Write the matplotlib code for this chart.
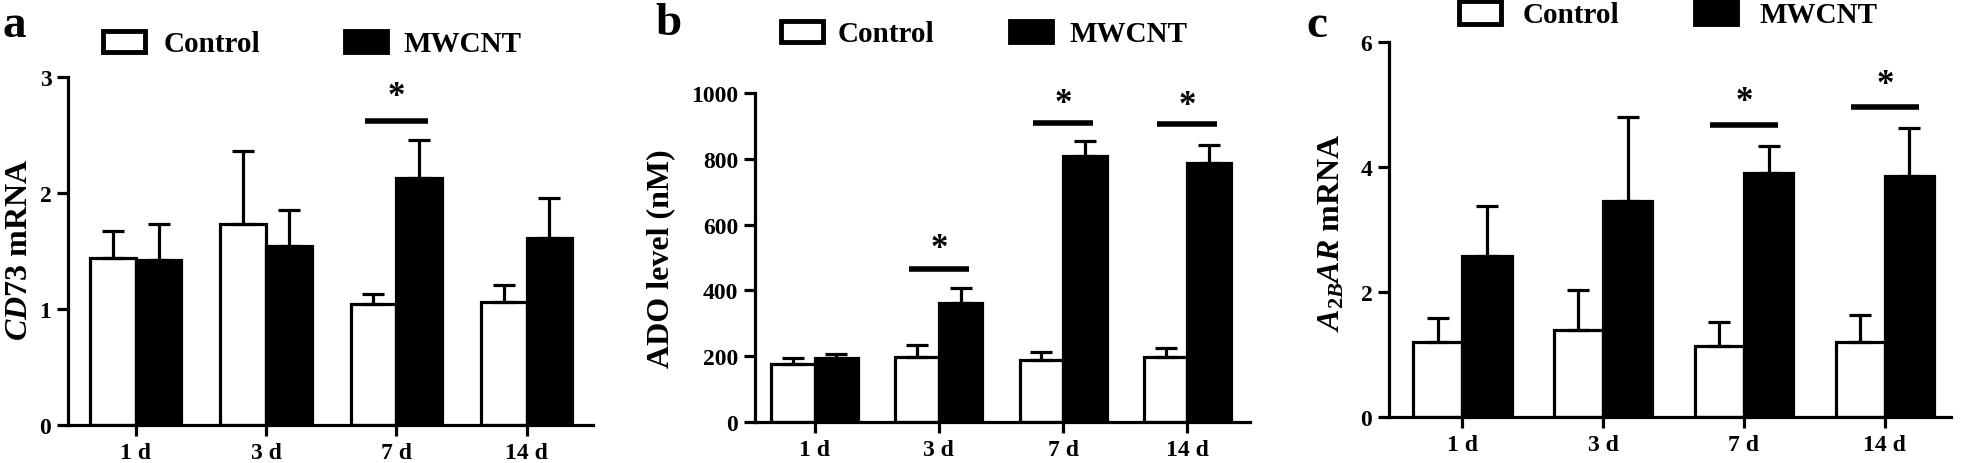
import matplotlib
matplotlib.use("Agg")
import matplotlib.pyplot as plt
import matplotlib.transforms as mtrans
from matplotlib.patches import Rectangle
import numpy as np

# ---------------- data ----------------
days = ["1 d", "3 d", "7 d", "14 d"]
series = ["Control", "MWCNT"]

a_ctrl = [1.44, 1.73, 1.04, 1.06]
a_ctrl_err = [0.23, 0.63, 0.09, 0.15]
a_mw = [1.42, 1.54, 2.13, 1.61]
a_mw_err = [0.31, 0.31, 0.33, 0.35]
a_sig_groups = [2]
a_sig_line = [2.62]
a_sig_star = [2.90]

b_ctrl = [177, 198, 188, 198]
b_ctrl_err = [19, 36, 25, 28]
b_mw = [194, 363, 809, 787]
b_mw_err = [12, 45, 45, 56]
b_sig_groups = [1, 2, 3]
b_sig_line = [464, 909, 905]
b_sig_star = [551, 992, 987]

c_ctrl = [1.20, 1.40, 1.13, 1.20]
c_ctrl_err = [0.39, 0.64, 0.39, 0.43]
c_mw = [2.57, 3.46, 3.91, 3.85]
c_mw_err = [0.81, 1.34, 0.43, 0.77]
c_sig_groups = [2, 3]
c_sig_line = [4.68, 4.96]
c_sig_star = [5.17, 5.44]

a_yticks = [0, 1, 2, 3]
b_yticks = [0, 200, 400, 600, 800, 1000]
c_yticks = [0, 2, 4, 6]

# ---------------- style ----------------
plt.rcParams["font.family"] = ["Liberation Serif", "DejaVu Serif"]
plt.rcParams["font.weight"] = "bold"
plt.rcParams["mathtext.fontset"] = "custom"
plt.rcParams["mathtext.rm"] = "Liberation Serif:bold"
plt.rcParams["mathtext.it"] = "Liberation Serif:italic:bold"
plt.rcParams["mathtext.bf"] = "Liberation Serif:bold"

W, H = 1961, 464
DPI = 100
fig = plt.figure(figsize=(W / DPI, H / DPI), dpi=DPI)

LW = 2.3       # axis / bar edge width (pt)
TICK_FS = 17
LABEL_FS = 23
LEG_FS = 21
STAR_FS = 25
BW = 0.35


def px_axes(left, right, top, bottom):
    return fig.add_axes([left / W, 1 - bottom / H, (right - left) / W, (bottom - top) / H])


def panel(ax, ctrl, ctrl_err, mw, mw_err, yticks, xlim, sig_g, sig_line, sig_star):
    x = np.arange(len(days))
    ax.bar(x - BW / 2, ctrl, BW, color="white", edgecolor="black", linewidth=LW, zorder=2)
    ax.bar(x + BW / 2, mw, BW, color="black", edgecolor="black", linewidth=LW, zorder=2)
    z = np.zeros(len(days))
    ax.errorbar(x - BW / 2, ctrl, yerr=[z, ctrl_err], fmt="none", ecolor="black",
                elinewidth=LW, capsize=8, capthick=LW, zorder=3)
    ax.errorbar(x + BW / 2, mw, yerr=[z, mw_err], fmt="none", ecolor="black",
                elinewidth=LW, capsize=8, capthick=LW, zorder=3)
    sig_g = np.array(sig_g, dtype=float)
    ax.hlines(sig_line, sig_g - 0.24, sig_g + 0.24, colors="black", linewidth=4.0, zorder=3)
    off = mtrans.ScaledTranslation(0, -0.47 * STAR_FS / 72, fig.dpi_scale_trans)
    for g, s in zip(sig_g, sig_star):
        ax.text(g, s, "*", ha="center", va="baseline", fontsize=STAR_FS,
                fontweight="bold", transform=ax.transData + off)
    ax.set_xlim(*xlim)
    ax.set_ylim(yticks[0], yticks[-1])
    ax.set_yticks(yticks)
    ax.set_xticks(x)
    ax.set_xticklabels(days)
    for sp in ["top", "right"]:
        ax.spines[sp].set_visible(False)
    for sp in ["left", "bottom"]:
        ax.spines[sp].set_linewidth(LW)
    ax.tick_params(axis="both", direction="out", length=8, width=LW,
                   labelsize=TICK_FS, pad=4)
    for lab in ax.get_xticklabels() + ax.get_yticklabels():
        lab.set_fontweight("bold")


def legend(x_box1, x_txt1, x_box2, x_txt2, y_top, y_bot, y_base):
    for xb, fc in [(x_box1, "white"), (x_box2, "black")]:
        fig.patches.append(Rectangle((xb / W, 1 - y_bot / H), 42 / W, (y_bot - y_top) / H,
                                     transform=fig.transFigure, facecolor=fc,
                                     edgecolor="black", linewidth=3.5))
    fig.text(x_txt1 / W, 1 - y_base / H, series[0], fontsize=LEG_FS, fontweight="bold",
             ha="left", va="baseline")
    fig.text(x_txt2 / W, 1 - y_base / H, series[1], fontsize=LEG_FS, fontweight="bold",
             ha="left", va="baseline")


# panel a
axa = px_axes(68, 593, 78, 426)
panel(axa, a_ctrl, a_ctrl_err, a_mw, a_mw_err, a_yticks, (-0.52, 3.51),
      a_sig_groups, a_sig_line, a_sig_star)
# panel b
axb = px_axes(755, 1250, 94, 423)
panel(axb, b_ctrl, b_ctrl_err, b_mw, b_mw_err, b_yticks, (-0.48, 3.505),
      b_sig_groups, b_sig_line, b_sig_star)
# panel c
axc = px_axes(1389, 1951, 43, 418)
panel(axc, c_ctrl, c_ctrl_err, c_mw, c_mw_err, c_yticks, (-0.52, 3.47),
      c_sig_groups, c_sig_line, c_sig_star)

# y labels
fig.text(20 / W, 1 - 250 / H, r"$\mathit{CD73}$ mRNA", rotation=90, fontsize=LABEL_FS,
         fontweight="bold", ha="center", va="center")
fig.text(661 / W, 1 - 259 / H, "ADO level (nM)", rotation=90, fontsize=LABEL_FS,
         fontweight="bold", ha="center", va="center")
fig.text(1332 / W, 1 - 233 / H, r"$A_{\mathit{2B}}\mathit{AR}$ mRNA", rotation=90,
         fontsize=LABEL_FS, fontweight="bold", ha="center", va="center")

# legends
legend(103, 164, 345, 404, 32, 53, 52)
legend(781, 838, 1010, 1069, 22, 43, 42)
legend(1459, 1523, 1695, 1759, 2, 25, 23)

# panel letters
fig.text(2 / W, 1 - 37 / H, "a", fontsize=34, fontweight="bold", ha="left", va="baseline")
fig.text(655 / W, 1 - 35 / H, "b", fontsize=34, fontweight="bold", ha="left", va="baseline")
fig.text(1306 / W, 1 - 37 / H, "c", fontsize=34, fontweight="bold", ha="left", va="baseline")

fig.savefig("out.png", dpi=DPI)
